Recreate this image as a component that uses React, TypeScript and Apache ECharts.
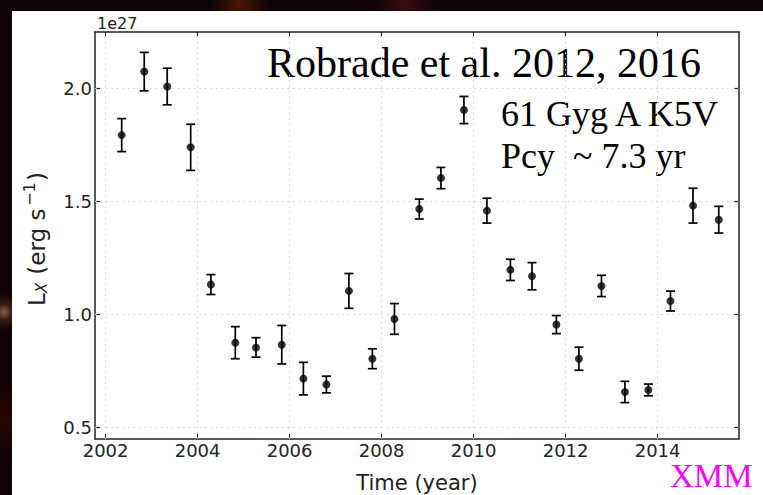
import React, { useEffect, useRef } from "react";
import * as echarts from "echarts";

// Observation epochs (decimal year) and X-ray luminosity (units of 1e27 erg/s)
const years = [
  2002.35, 2002.84, 2003.34, 2003.85, 2004.29, 2004.82, 2005.27, 2005.83, 2006.3,
  2006.8, 2007.29, 2007.8, 2008.28, 2008.82, 2009.29, 2009.79, 2010.29, 2010.8,
  2011.27, 2011.8, 2012.29, 2012.78, 2013.29, 2013.8, 2014.28, 2014.77, 2015.33,
];
const lx = [
  1.794, 2.075, 2.009, 1.74, 1.133, 0.876, 0.855, 0.867, 0.717, 0.691, 1.105, 0.805,
  0.981, 1.467, 1.604, 1.905, 1.46, 1.198, 1.17, 0.956, 0.805, 1.127, 0.658, 0.667,
  1.06, 1.482, 1.42,
];
const lxErr = [
  0.073, 0.085, 0.081, 0.102, 0.044, 0.071, 0.043, 0.085, 0.072, 0.037, 0.077, 0.044,
  0.068, 0.044, 0.047, 0.06, 0.055, 0.047, 0.06, 0.04, 0.051, 0.047, 0.047, 0.026,
  0.044, 0.077, 0.059,
];

const xTicks = [2002, 2004, 2006, 2008, 2010, 2012, 2014];
const yTicks = [0.5, 1.0, 1.5, 2.0];
const xRange = [2001.77, 2015.77];
const yRange = [0.45, 2.25];

const titleText = "Robrade et al. 2012, 2016";
const starText = "61 Gyg A K5V";
const cycleText = "Pcy  ~ 7.3 yr";
const offsetText = "1e27";
const instrumentText = "XMM";
const xNameText = "Time (year)";
const yNameParts = ["L", "X", " (erg s", "\u22121", ")"];

const SANS = "DejaVu Sans";
const SERIF = "Liberation Serif";
const INK = "#222";

export default function App() {
  const ref = useRef<HTMLDivElement>(null);

  useEffect(() => {
    const chart = echarts.init(ref.current!, null, { renderer: "svg" });
    const points = years.map((y, i) => [y, lx[i]]);
    const bars = years.map((y, i) => [y, lx[i] - lxErr[i], lx[i] + lxErr[i]]);

    const frame = { show: true, onZero: false, lineStyle: { color: INK, width: 1.5 } };
    const tickStyle = { color: INK, width: 1.2 };

    const option: any = {
      animation: false,
      backgroundColor: "transparent",
      grid: { left: 95, top: 32, right: 24, bottom: 56 },
      xAxis: [
        {
          type: "value",
          position: "bottom",
          min: xRange[0],
          max: xRange[1],
          axisLine: frame,
          axisTick: { show: true, inside: true, length: 5, customValues: xTicks, lineStyle: tickStyle },
          axisLabel: {
            customValues: xTicks,
            formatter: (v: number) => String(Math.round(v)),
            fontFamily: SANS,
            fontSize: 18,
            color: INK,
            margin: 2,
          },
          splitLine: { show: false },
        },
        {
          type: "value",
          position: "top",
          min: xRange[0],
          max: xRange[1],
          axisLine: frame,
          axisTick: { show: true, inside: true, length: 5, customValues: xTicks, lineStyle: tickStyle },
          axisLabel: { show: false },
          splitLine: { show: false },
        },
      ],
      yAxis: [
        {
          type: "value",
          position: "left",
          min: yRange[0],
          max: yRange[1],
          axisLine: frame,
          axisTick: { show: true, inside: true, length: 5, customValues: yTicks, lineStyle: tickStyle },
          axisLabel: {
            customValues: yTicks,
            formatter: (v: number) => v.toFixed(1),
            fontFamily: SANS,
            fontSize: 18,
            color: INK,
            margin: 3,
          },
          splitLine: { show: false },
        },
        {
          type: "value",
          position: "right",
          min: yRange[0],
          max: yRange[1],
          axisLine: frame,
          axisTick: { show: true, inside: true, length: 5, customValues: yTicks, lineStyle: tickStyle },
          axisLabel: { show: false },
          splitLine: { show: false },
        },
      ],
      series: [
        {
          type: "custom",
          xAxisIndex: 0,
          yAxisIndex: 0,
          z: 3,
          silent: true,
          data: bars,
          encode: { x: 0, y: [1, 2] },
          renderItem: (params: any, api: any) => {
            const x = api.value(0);
            const lo = api.coord([x, api.value(1)]);
            const hi = api.coord([x, api.value(2)]);
            const cap = 4.5;
            const st = { stroke: "#000", lineWidth: 1.7 };
            return {
              type: "group",
              children: [
                { type: "line", shape: { x1: lo[0], y1: lo[1], x2: hi[0], y2: hi[1] }, style: st },
                { type: "line", shape: { x1: lo[0] - cap, y1: lo[1], x2: lo[0] + cap, y2: lo[1] }, style: st },
                { type: "line", shape: { x1: hi[0] - cap, y1: hi[1], x2: hi[0] + cap, y2: hi[1] }, style: st },
              ],
            };
          },
        },
        {
          type: "scatter",
          xAxisIndex: 0,
          yAxisIndex: 0,
          z: 4,
          silent: true,
          symbol: "circle",
          symbolSize: 8,
          itemStyle: { color: "#000" },
          data: points,
          markLine: {
            silent: true,
            symbol: "none",
            label: { show: false },
            z: 1,
            lineStyle: { type: [1.5, 4], color: "#d6d6d6", width: 1 },
            data: [
              ...xTicks.map((v) => ({ xAxis: v })),
              ...yTicks.map((v) => ({ yAxis: v })),
            ],
          },
        },
      ],
      graphic: [
        {
          type: "text",
          x: 267,
          y: 63,
          style: { text: titleText, fontFamily: SERIF, fontSize: 42, fill: "#000", verticalAlign: "middle", align: "left" },
        },
        {
          type: "text",
          x: 501,
          y: 114,
          style: { text: starText, fontFamily: SERIF, fontSize: 36, fill: "#000", verticalAlign: "middle", align: "left" },
        },
        {
          type: "text",
          x: 501,
          y: 156,
          style: { text: cycleText, fontFamily: SERIF, fontSize: 36, fill: "#000", verticalAlign: "middle", align: "left" },
        },
        {
          type: "text",
          x: 670,
          y: 476,
          style: { text: instrumentText, fontFamily: SERIF, fontSize: 33, fill: "#ff00ff", verticalAlign: "middle", align: "left" },
        },
        {
          type: "text",
          x: 97,
          y: 23,
          style: { text: offsetText, fontFamily: SANS, fontSize: 16, fill: INK, verticalAlign: "middle", align: "left" },
        },
        {
          type: "text",
          x: 417,
          y: 483,
          style: { text: xNameText, fontFamily: SANS, fontSize: 21, fill: INK, verticalAlign: "middle", align: "center" },
        },
        {
          type: "group",
          x: 37,
          y: 306,
          rotation: Math.PI / 2,
          children: [
            { type: "text", x: 0, y: 0, style: { text: yNameParts[0], fontFamily: SANS, fontSize: 23, fill: INK, verticalAlign: "middle" } },
            { type: "text", x: 13, y: 5, style: { text: yNameParts[1], fontFamily: SANS, fontStyle: "italic", fontSize: 15, fill: INK, verticalAlign: "middle" } },
            { type: "text", x: 24, y: 0, style: { text: yNameParts[2], fontFamily: SANS, fontSize: 23, fill: INK, verticalAlign: "middle" } },
            { type: "text", x: 100, y: -8, style: { text: yNameParts[3], fontFamily: SANS, fontSize: 16, fill: INK, verticalAlign: "middle" } },
            { type: "text", x: 125, y: 0, style: { text: yNameParts[4], fontFamily: SANS, fontSize: 23, fill: INK, verticalAlign: "middle" } },
          ],
        },
      ],
    };

    chart.setOption(option);
    return () => chart.dispose();
  }, []);

  return (
    <div
      style={{
        position: "fixed",
        left: 0,
        top: 0,
        width: 763,
        height: 495,
        overflow: "hidden",
        background:
          "radial-gradient(circle at 4px 312px, #8a5c44 0px, #3a1a14 8px, transparent 18px)," +
          "radial-gradient(circle at 240px 4px, #4a1608 0px, transparent 30px)," +
          "radial-gradient(circle at 405px 4px, #3a0c10 0px, transparent 30px)," +
          "radial-gradient(circle at 10px 420px, #2a0606 0px, transparent 40px)," +
          "#0e0408",
      }}
    >
      <div style={{ position: "absolute", left: 12, top: 11, width: 751, height: 484, background: "#fff" }} />
      <div ref={ref} style={{ position: "absolute", left: 0, top: 0, width: 763, height: 495 }} />
    </div>
  );
}
